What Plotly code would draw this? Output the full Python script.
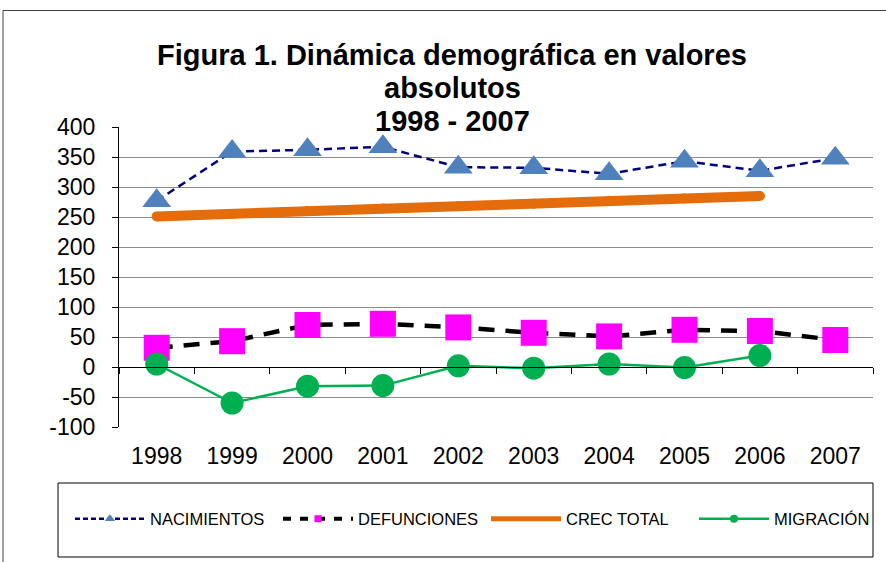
import plotly.graph_objects as go

# ---------------- data ----------------
years = ['1998', '1999', '2000', '2001', '2002', '2003', '2004', '2005', '2006', '2007']
nacimientos = [277, 359, 362, 367, 333, 332, 322, 343, 327, 348]
defunciones = [32, 43, 70, 72, 66, 57, 51, 62, 60, 45]
crec_total = [251, 255, 260, 264, 268, 272, 277, 281, 285, None]
migracion = [5, -60, -32, -31, 2, -2, 5, -1, 19, None]

y_tick_values = [-100, -50, 0, 50, 100, 150, 200, 250, 300, 350, 400]
y_tick_labels = ['-100', '-50', '0', '50', '100', '150', '200', '250', '300', '350', '400']

series_names = ['NACIMIENTOS', 'DEFUNCIONES', 'CREC TOTAL', 'MIGRACIÓN']
title_lines = ['Figura 1. Dinámica demográfica en valores', 'absolutos', '1998 - 2007']

# ---------------- layout geometry (pixels) ----------------
W, H = 886, 562
L, R, T, B = 119, 873, 127, 427
FONT = 'Liberation Sans, Arial, sans-serif'
Y_MIN, Y_MAX = -100, 400


def px_x(x):
    return (x - L) / (R - L)


def px_y(y):
    return (B - y) / (B - T)


fig = go.Figure()

# main traces (legend drawn with small-marker proxies below)
fig.add_trace(go.Scatter(
    x=years, y=nacimientos, mode='lines+markers', showlegend=False,
    line=dict(color='#000080', width=2.5, dash='8px,5px'),
    marker=dict(symbol='triangle-up', size=25, color='#4F81BD'),
))
fig.add_trace(go.Scatter(
    x=years, y=defunciones, mode='lines+markers', showlegend=False,
    line=dict(color='#000000', width=4.5, dash='16px,11px'),
    marker=dict(symbol='square', size=26, color='#FF00FF'),
))
fig.add_trace(go.Scatter(
    x=years, y=crec_total, mode='lines+markers', showlegend=False,
    line=dict(color='#E46C0A', width=10),
    marker=dict(symbol='circle', size=10, color='#E46C0A'),
))
fig.add_trace(go.Scatter(
    x=years, y=migracion, mode='lines+markers', showlegend=False,
    line=dict(color='#00B050', width=2.5),
    marker=dict(symbol='circle', size=23, color='#00B050'),
))

# legend proxies
fig.add_trace(go.Scatter(
    x=[None], y=[None], mode='lines+markers', name=series_names[0],
    line=dict(color='#000080', width=2.5, dash='5px,3px'),
    marker=dict(symbol='triangle-up', size=9, color='#4F81BD'),
))
fig.add_trace(go.Scatter(
    x=[None], y=[None], mode='lines+markers', name=series_names[1],
    line=dict(color='#000000', width=4, dash='8px,9px'),
    marker=dict(symbol='square', size=7, color='#FF00FF'),
))
fig.add_trace(go.Scatter(
    x=[None], y=[None], mode='lines', name=series_names[2],
    line=dict(color='#E46C0A', width=5),
))
fig.add_trace(go.Scatter(
    x=[None], y=[None], mode='lines+markers', name=series_names[3],
    line=dict(color='#00B050', width=2.5),
    marker=dict(symbol='circle', size=8, color='#00B050'),
))

# helper trace giving the zero-crossing category axis its categories
fig.add_trace(go.Scatter(
    x=years, y=[None] * len(years), xaxis='x2', mode='lines',
    showlegend=False, hoverinfo='skip',
))

title_centers_y = [55, 88, 121]
annotations = [
    dict(text='<b>' + line + '</b>', xref='paper', yref='paper',
         x=px_x(452), y=px_y(cy), xanchor='center', yanchor='middle', showarrow=False,
         font=dict(size=29, family=FONT, color='#000000'))
    for line, cy in zip(title_lines, title_centers_y)
]

fig.update_layout(
    width=W, height=H,
    margin=dict(l=L, r=W - R, t=T, b=H - B, pad=0, autoexpand=False),
    paper_bgcolor='white', plot_bgcolor='white',
    font=dict(family=FONT, color='#000000'),
    showlegend=True,
    xaxis=dict(
        type='category', categoryorder='array', categoryarray=years,
        range=[-0.5, len(years) - 0.5], automargin=False,
        showgrid=False, zeroline=False, showline=False,
        ticks='outside', ticklen=8, tickcolor='rgba(0,0,0,0)',
        tickfont=dict(size=23, family=FONT, color='#000000'),
    ),
    xaxis2=dict(
        type='category', categoryorder='array', categoryarray=years,
        overlaying='x', anchor='free', position=(0 - Y_MIN) / (Y_MAX - Y_MIN),
        range=[-0.5, len(years) - 0.5], automargin=False,
        showgrid=False, zeroline=False, showticklabels=False,
        showline=True, linecolor='#000000', linewidth=1,
        ticks='outside', ticklen=6, tickcolor='#000000', tickson='boundaries',
        side='bottom',
    ),
    yaxis=dict(
        range=[Y_MIN, Y_MAX], tickmode='array',
        tickvals=y_tick_values, ticktext=y_tick_labels, automargin=False,
        showgrid=True, gridcolor='#8C8C8C', gridwidth=1,
        zeroline=False,
        showline=True, linecolor='#000000', linewidth=1,
        ticks='outside', ticklen=6, tickcolor='#000000',
        ticklabelstandoff=12,
        tickfont=dict(size=23, family=FONT, color='#000000'),
    ),
    legend=dict(
        orientation='h', x=px_x(70), xanchor='left', xref='paper',
        y=px_y(519), yanchor='middle', yref='paper',
        bgcolor='rgba(0,0,0,0)', borderwidth=0,
        itemwidth=70, entrywidth=123, entrywidthmode='pixels',
        font=dict(size=16.5, family=FONT, color='#000000'),
        itemclick=False, itemdoubleclick=False,
    ),
    shapes=[
        dict(type='rect', xref='paper', yref='paper',
             x0=px_x(3), x1=px_x(900), y0=px_y(580), y1=px_y(10.5),
             line=dict(color='#404040', width=1), fillcolor='rgba(0,0,0,0)', layer='below'),
        dict(type='rect', xref='paper', yref='paper',
             x0=px_x(58), x1=px_x(873), y0=px_y(557), y1=px_y(483),
             line=dict(color='#000000', width=1), fillcolor='rgba(0,0,0,0)', layer='below'),
    ],
    annotations=annotations,
)

fig.write_html('out.html', config={'displayModeBar': False},
               post_script="document.body.style.margin='0px';")
